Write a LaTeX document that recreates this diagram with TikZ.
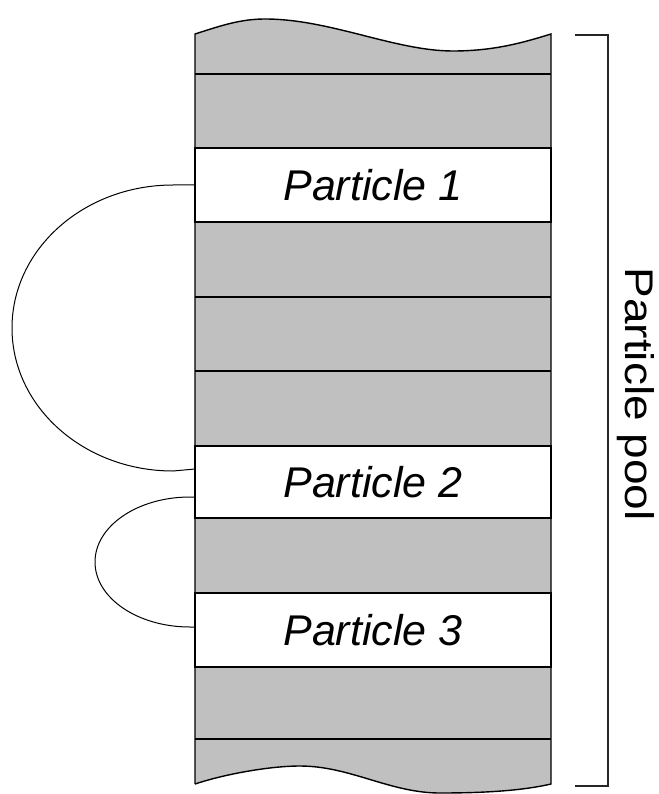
\documentclass[tikz,border=0pt]{standalone}
\usepackage{fontspec}
\setmainfont{Liberation Sans}
\usetikzlibrary{calc}
\definecolor{poolgray}{RGB}{192,192,192}
\begin{document}
\begin{tikzpicture}[x=1pt,y=-1pt,
  outline/.style={line width=1.4pt, black},
  sep/.style={line width=1.3pt, black},
  conn/.style={line width=1pt, black},
  particle/.style={draw=black, line width=1.3pt, fill=white, minimum width=356pt, inner sep=0pt, outer sep=0pt, font=\fontsize{43}{43}\selectfont\itshape},
  poollabel/.style={font=\fontsize{40}{40}\selectfont, inner sep=0pt, rotate=-90, xscale=1.15}]
\useasboundingbox (0,0) rectangle (658,794);
% body
\fill[poolgray] (195,34) .. controls (220,26) and (240,19) .. (265,19)
  .. controls (330,19) and (395,51) .. (453,51)
  .. controls (495,51) and (525,42) .. (551,34)
  -- (551,784) .. controls (525,790) and (490,793) .. (440,793)
  .. controls (390,793) and (350,766) .. (300,766)
  .. controls (270,766) and (225,774) .. (195,784) -- cycle;
\draw[outline] (195,784) -- (195,34) .. controls (220,26) and (240,19) .. (265,19)
  .. controls (330,19) and (395,51) .. (453,51)
  .. controls (495,51) and (525,42) .. (551,34) -- (551,784)
  .. controls (525,790) and (490,793) .. (440,793)
  .. controls (390,793) and (350,766) .. (300,766)
  .. controls (270,766) and (225,774) .. (195,784);
% separators
\foreach \yy in {74,222,297,371,446,593,667,739}
  \draw[sep] (195,\yy) -- (551,\yy);
% particles
\node[particle, minimum height=74pt] (p1) at (373,185) {Particle 1};
\node[particle, minimum height=72pt] (p2) at (373,482) {Particle 2};
\node[particle, minimum height=74pt] (p3) at (373,630) {Particle 3};
\draw[line width=2.4pt] (p2.south west) -- (p2.south east);
% links
\draw[conn] (p1.west) -- ++(-22,0) arc[start angle=270, end angle=90, x radius=161, y radius=143] -- ($(p2.west)+(0,-13)$);
\draw[conn] ($(p2.west)+(0,15)$) -- ++(-5,0) arc[start angle=270, end angle=90, x radius=95, y radius=65] -- ($(p3.west)+(0,-3)$);
% bracket
\coordinate (bt) at (575,35);
\coordinate (bb) at (575,786);
\draw[line width=1.5pt, black!85] (bt) -| (608,786) -- (bb);
\node[poollabel] (pool) at (636,394) {Particle pool};
\end{tikzpicture}
\end{document}
